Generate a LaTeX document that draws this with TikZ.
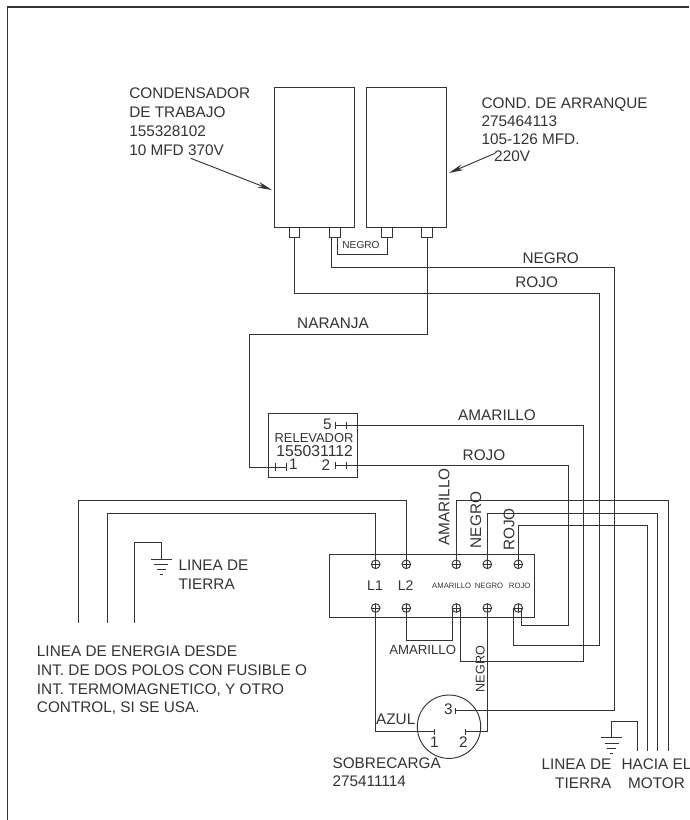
\documentclass[tikz,border=0pt]{standalone}
\usepackage{fontspec}
\setmainfont{Liberation Sans}
\usetikzlibrary{arrows.meta,calc}
\def\screw(#1){\draw[wire] (#1) circle (4.3); \draw[wire] ($(#1)+(-4.3,0)$) -- ($(#1)+(4.3,0)$); \draw[wire] ($(#1)+(0,-4.3)$) -- ($(#1)+(0,4.3)$);}
\def\groundsym(#1){\draw[wire] ($(#1)+(-10.5,0)$) -- ($(#1)+(10.5,0)$); \draw[wire] ($(#1)+(-7,5.5)$) -- ($(#1)+(7,5.5)$); \draw[wire] ($(#1)+(-4.3,10.5)$) -- ($(#1)+(4.3,10.5)$); \draw[wire] ($(#1)+(-1.5,15.5)$) -- ($(#1)+(1.5,15.5)$);}
\def\contact(#1)(#2){\draw[wire] ($(#1)+(0,-3.8)$) -- ($(#1)+(0,3.8)$); \draw[wire] ($(#2)+(0,-3.8)$) -- ($(#2)+(0,3.8)$); \draw[wire] (#1) -- (#2);}
\definecolor{ink}{gray}{0.2}
\tikzset{
	wire/.style={line width=0.7pt, color=ink},
	lbl/.style={inner sep=0pt, text=ink, font=\fontsize{11.5}{14}\selectfont, text height=8.2pt, text depth=0pt},
	block/.style={inner sep=0pt, text=ink, align=left, anchor=north west},
	tiny/.style={lbl, font=\fontsize{5.8}{7}\selectfont, text height=4.2pt}
}
\begin{document}
\begin{tikzpicture}[x=0.75pt, y=-0.75pt]
	\useasboundingbox (0, 0) rectangle (689, 820);
	%%%%% START %%%%%

	\draw[wire, line width=1pt] (7.5, 820) -- (7.5, 7) -- (689, 7);

	% capacitors
	\draw[wire] (274.5, 87.7) rectangle (354.7, 227.7);
	\draw[wire] (366, 87.7) rectangle (446.3, 227.7);
	\draw[wire] (289, 227.7) rectangle (299.7, 237.3);
	\draw[wire] (329.7, 227.7) rectangle (340.3, 237.3);
	\draw[wire] (381.7, 227.7) rectangle (392.3, 237.3);
	\draw[wire] (421.7, 227.7) rectangle (432.3, 237.3);

	\coordinate (capa) at (294.3, 237.3);
	\coordinate (capb) at (331.3, 237.3);
	\coordinate (capc) at (337, 237.3);
	\coordinate (capd) at (387, 237.3);
	\coordinate (cape) at (427, 237.3);

	\node[block, font=\fontsize{11.5}{14.25}\selectfont] (trabajo) at (129, 87.2) {CONDENSADOR\\DE TRABAJO\\155328102\\10 MFD 370V};
	\node[block, font=\fontsize{11.5}{13.25}\selectfont] (arranque) at (481.3, 98) {COND. DE ARRANQUE\\275464113\\105-126 MFD.\\\hspace*{9.5pt}220V};
	\coordinate (trabajoa) at (190.7, 158.3);
	\coordinate (trabajob) at (272, 190);
	\coordinate (arranquea) at (495, 153.3);
	\coordinate (arranqueb) at (449, 173);
	\draw[wire, -{Stealth[length=11pt, width=4.5pt]}] (trabajoa) -- (trabajob);
	\draw[wire, -{Stealth[length=11pt, width=4.5pt]}] (arranquea) -- (arranqueb);

	\draw[wire] (capc) |- (387, 254.3) -- (capd);
	\node[lbl, font=\fontsize{7.6}{9}\selectfont, text height=5.5pt] (negrocap) at (361, 244.5) {NEGRO};

	% relay
	\draw[wire] (268.3, 413.7) rectangle (357.7, 477.7);
	\coordinate (relaya) at (275, 467);
	\coordinate (relayb) at (286.3, 467);
	\coordinate (relayc) at (335.7, 465.5);
	\coordinate (relayd) at (346.7, 465.5);
	\coordinate (relaye) at (335.7, 425.3);
	\coordinate (relayf) at (346.7, 425.3);
	\contact(relaya)(relayb)
	\contact(relayc)(relayd)
	\contact(relaye)(relayf)
	\node[lbl, font=\fontsize{9.7}{12}\selectfont, text height=7pt] (relevador) at (314, 438.3) {RELEVADOR};
	\node[lbl, font=\fontsize{11.8}{14}\selectfont] (relevadornum) at (314.7, 450.7) {155031112};
	\node[lbl] (numfive) at (327.3, 424.3) {5};
	\node[lbl] (numone) at (293.5, 464) {1};
	\node[lbl] (numtwo) at (326, 465) {2};

	% terminal block
	\draw[wire] (329, 554.3) rectangle (534, 617.7);
	\coordinate (topa) at (375.7, 564.3);
	\coordinate (topb) at (406.3, 564.3);
	\coordinate (topc) at (456.3, 564.3);
	\coordinate (topd) at (487.3, 564.3);
	\coordinate (tope) at (518.3, 564.3);
	\coordinate (bota) at (375.7, 608);
	\coordinate (botb) at (406.3, 608);
	\coordinate (botc) at (456.3, 608);
	\coordinate (botd) at (487.3, 608);
	\coordinate (bote) at (518.3, 608);
	\screw(topa) \screw(topb) \screw(topc) \screw(topd) \screw(tope)
	\screw(bota) \screw(botb) \screw(botc) \screw(botd) \screw(bote)
	\node[lbl, font=\fontsize{10.5}{12}\selectfont, text height=7.5pt] (lone) at (375, 585.7) {L1};
	\node[lbl, font=\fontsize{10.5}{12}\selectfont, text height=7.5pt] (ltwo) at (405.7, 585.7) {L2};
	\node[tiny] (amarillotb) at (451.7, 586) {AMARILLO};
	\node[tiny] (negrotb) at (489, 585.3) {NEGRO};
	\node[tiny] (rojotb) at (519.7, 586) {ROJO};

	% overload
	\draw[wire] (449, 726.7) circle (31.7);
	\coordinate (ovla) at (434, 731.7);
	\coordinate (ovlb) at (465.7, 731.7);
	\coordinate (ovlc) at (455, 710.7);
	\draw[wire] (434, 729) -- (434, 735);
	\draw[wire] (465.7, 729) -- (465.7, 735);
	\draw[wire] (455, 708) -- (455, 713.5);
	\node[lbl] (ovlone) at (434.3, 742.3) {1};
	\node[lbl] (ovltwo) at (463.3, 741.7) {2};
	\node[lbl] (ovlthree) at (448.3, 708.7) {3};
	\node[block, font=\fontsize{11.5}{13.5}\selectfont] (sobrecarga) at (332.3, 757.3) {SOBRECARGA\\275411114};

	% wires to capacitors and relay
	\draw[wire] (capa) |- (599, 293) |- (513.7, 645) -- (513.7, 608);
	\draw[wire] (capb) |- (614.3, 267.3) |- (ovlc);
	\draw[wire] (cape) |- (249.3, 334) |- (relaya);
	\draw[wire] (relayf) -| (583.3, 661.7) -| (460, 608);
	\draw[wire] (relayd) -| (568, 625.7) -| (521.7, 608);
	\draw[wire] (bota) |- (ovla);
	\draw[wire] (botd) |- (ovlb);
	\draw[wire] (botb) |- (452.3, 640) -- (452.3, 608);

	% motor wires
	\draw[wire] (topc) |- (668, 500.7) -- (668, 751);
	\draw[wire] (topd) |- (657.7, 513) -- (657.7, 751);
	\draw[wire] (tope) |- (647.3, 525) -- (647.3, 751);
	\coordinate (groundb) at (611.7, 737.7);
	\draw[wire] (637, 751) |- (611.7, 721.7) -- (groundb);
	\groundsym(groundb)

	% line wires
	\draw[wire] (78, 623) |- (406.3, 500.7) -- (topb);
	\draw[wire] (107.3, 623) |- (375.7, 513) -- (topa);
	\coordinate (grounda) at (161.3, 559);
	\draw[wire] (134.7, 623) |- (161.3, 542.7) -- (grounda);
	\groundsym(grounda)

	% wire labels
	\node[lbl] (negrotop) at (550.7, 258.3) {NEGRO};
	\node[lbl] (rojotop) at (536.7, 282.3) {ROJO};
	\node[lbl] (naranja) at (333, 323) {NARANJA};
	\node[lbl] (amarillorel) at (497, 415) {AMARILLO};
	\node[lbl] (rojorel) at (484, 455) {ROJO};
	\node[lbl, rotate=90] (amarillorot) at (444, 507) {AMARILLO};
	\node[lbl, rotate=90] (negrorot) at (475.7, 520) {NEGRO};
	\node[lbl, rotate=90] (rojorot) at (509, 529.5) {ROJO};
	\node[lbl, font=\fontsize{9.9}{12}\selectfont, text height=7pt] (amarillolow) at (422.7, 650.3) {AMARILLO};
	\node[lbl, rotate=90, font=\fontsize{9.5}{12}\selectfont, text height=7pt] (negrolow) at (480, 669) {NEGRO};
	\node[lbl] (azul) at (395.7, 719.3) {AZUL};

	\node[block, font=\fontsize{11.5}{14.25}\selectfont] (tierraa) at (178.3, 559.5) {LINEA DE\\TIERRA};
	\node[block, font=\fontsize{11.5}{14.2}\selectfont] (energia) at (36.7, 645.2) {LINEA DE ENERGIA DESDE\\INT. DE DOS POLOS CON FUSIBLE O\\INT. TERMOMAGNETICO, Y OTRO\\CONTROL, SI SE USA.};
	\node[block, align=right, anchor=north east, font=\fontsize{11.5}{14.25}\selectfont] (tierrab) at (611.7, 758.8) {LINEA DE\\TIERRA};
	\node[block, align=center, anchor=north, font=\fontsize{11.5}{13.9}\selectfont] (motor) at (656.5, 758.5) {HACIA EL\\MOTOR};

	%%%%% END %%%%%
\end{tikzpicture}
\end{document}
